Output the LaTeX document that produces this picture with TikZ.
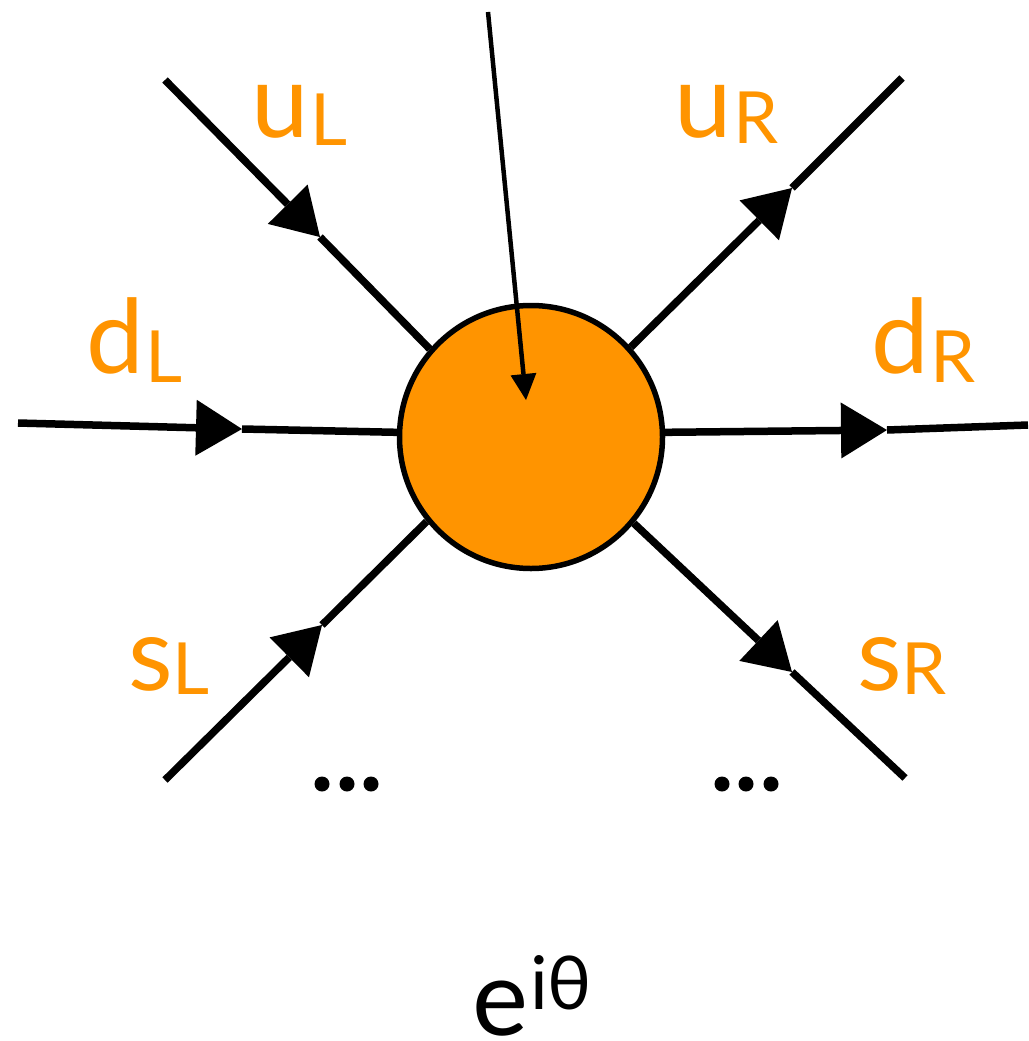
\documentclass[tikz,border=0pt]{standalone}
\usepackage{fontspec}
\setmainfont{Lato}
\usetikzlibrary{arrows.meta}
\definecolor{quarkorange}{RGB}{255,148,0}

\begin{document}
\begin{tikzpicture}[x=1pt,y=-1pt,
  leg/.style={line width=7.5pt},
  legtip/.style={-{Triangle[length=46pt,width=56pt,line width=0pt]}},
  flavour/.style={text=quarkorange, inner sep=0pt, anchor=base west,
                  font=\fontsize{103}{103}\selectfont},
  dotmark/.style={fill=black, circle, inner sep=0pt, minimum size=15pt},
]
\useasboundingbox (0,0) rectangle (1028,1041);

% central vertex
\node[circle, draw, fill=quarkorange, line width=5.5pt, inner sep=0pt,
      minimum size=263pt] (c) at (531,437) {};

% incoming left-handed quarks
\coordinate (uLend) at (165,80);
\coordinate (uLtip) at (320,237);
\draw[leg,legtip] (uLend) -- (uLtip);
\draw[leg] (uLtip) -- (c.139);

\coordinate (dLend) at (18,423);
\coordinate (dLtip) at (242,429);
\draw[leg,legtip] (dLend) -- (dLtip);
\draw[leg] (dLtip) -- (c.178);

\coordinate (sLend) at (165,780);
\coordinate (sLtip) at (322,625);
\draw[leg,legtip] (sLend) -- (sLtip);
\draw[leg] (sLtip) -- (c.219);

% outgoing right-handed quarks
\coordinate (uRend) at (902,78);
\coordinate (uRtip) at (792,188);
\draw[leg,legtip] (c.42) -- (uRtip);
\draw[leg] (uRtip) -- (uRend);

\coordinate (dRend) at (1028,425);
\coordinate (dRtip) at (887,430);
\draw[leg,legtip] (c.2) -- (dRtip);
\draw[leg] (dRtip) -- (dRend);

\coordinate (sRend) at (905,778);
\coordinate (sRtip) at (792,672);
\draw[leg,legtip] (c.-40) -- (sRtip);
\draw[leg] (sRtip) -- (sRend);

% theta insertion
\coordinate (thtop) at (488,12);
\coordinate (thtip) at (526,400);
\draw[line width=4.5pt, -{Triangle[length=26pt,width=26pt,line width=0pt]}]
  (thtop) -- (thtip);

% flavour labels
\node[flavour] (luL) at (251,137) {u\kern2pt\raisebox{-8pt}{\fontsize{72}{72}\selectfont L}};
\node[flavour] (luR) at (674,137) {u\kern2pt\raisebox{-6pt}{\fontsize{72}{72}\selectfont R}};
\node[flavour] (ldL) at (86,373) {d\kern2pt\raisebox{-9pt}{\fontsize{72}{72}\selectfont L}};
\node[flavour] (ldR) at (871,373) {d\kern2pt\raisebox{-9pt}{\fontsize{72}{72}\selectfont R}};
\node[flavour] (lsL) at (128,690) {s\kern0pt\raisebox{-4pt}{\fontsize{72}{72}\selectfont L}};
\node[flavour] (lsR) at (857,690) {s\kern0pt\raisebox{-4pt}{\fontsize{72}{72}\selectfont R}};

% further flavours
\foreach \x [count=\i] in {322,347,371} \node[dotmark] (dl\i) at (\x,784) {};
\foreach \x [count=\i] in {722,746,771} \node[dotmark] (dr\i) at (\x,784) {};

% phase
\node[inner sep=0pt, text depth=0pt, anchor=base west,
      font=\fontsize{106}{106}\selectfont] (phase)
  at (472,1035) {e\kern2pt\raisebox{26pt}{\fontsize{74}{74}\selectfont iθ}};
\end{tikzpicture}
\end{document}
